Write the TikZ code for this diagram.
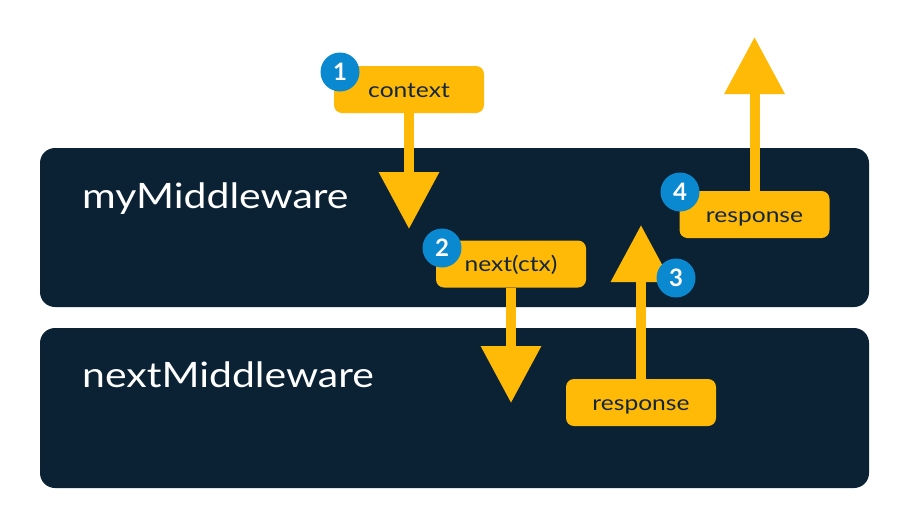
\documentclass[tikz,border=0pt]{standalone}
\usepackage{fontspec}
\setmainfont{Lato}[FakeStretch=1.17]
\newfontfamily\badgefont{Lato}
\usetikzlibrary{arrows.meta}
\definecolor{navy}{HTML}{0A2234}
\definecolor{amber}{HTML}{FFBA08}
\definecolor{bluec}{HTML}{0A88D0}
\definecolor{ink}{HTML}{14273A}
\tikzset{
  layer/.style={fill=navy, rounded corners=15pt, draw=none},
  layertext/.style={text=white, anchor=base west, inner sep=0pt, font=\fontsize{35}{42}\selectfont},
  tag/.style={fill=amber, rounded corners=8pt, minimum width=150pt, minimum height=47pt, inner sep=0pt, text height=15pt, text depth=0pt, text=ink, font=\fontsize{21}{25}\selectfont},
  badge/.style={circle, fill=bluec, minimum size=39pt, inner sep=0pt, text=white, font=\badgefont\fontsize{24}{28}\selectfont\bfseries},
  bigarrow/.style={draw=amber, line width=10pt, -{Triangle[length=57pt,width=58pt]}, color=amber}
}
\begin{document}
\begin{tikzpicture}[x=1pt,y=-1pt]
\useasboundingbox (0,0) rectangle (910,528);
% layers
\fill[layer] (40,148) rectangle (869,307);
\fill[layer] (40,328) rectangle (869,488);
\node[layertext] (mymw) at (82,208) {myMiddleware};
\node[layertext] (nextmw) at (82,387) {nextMiddleware};
% tags
\node[tag] (ctx) at (409,89.5) {context};
\node[tag] (nx) at (511,264) {next(ctx)};
\node[tag] (resp2) at (641,402.5) {response};
\node[tag] (resp1) at (754.5,214.5) {response};
% arrow end points
\coordinate (t1) at (409,229);
\coordinate (t2) at (511,403);
\coordinate (t3) at (641,225);
\coordinate (t4) at (754.5,37);
\draw[bigarrow] (ctx.south) -- (t1);
\draw[bigarrow] (nx.south) -- (t2);
\draw[bigarrow] (resp2.north) -- (t3);
\draw[bigarrow] (resp1.north) -- (t4);
% badges
\node[badge] (b1) at (340,72) {1};
\node[badge] (b2) at (442,248) {2};
\node[badge] (b3) at (676,278) {3};
\node[badge] (b4) at (680,192) {4};
\end{tikzpicture}
\end{document}
